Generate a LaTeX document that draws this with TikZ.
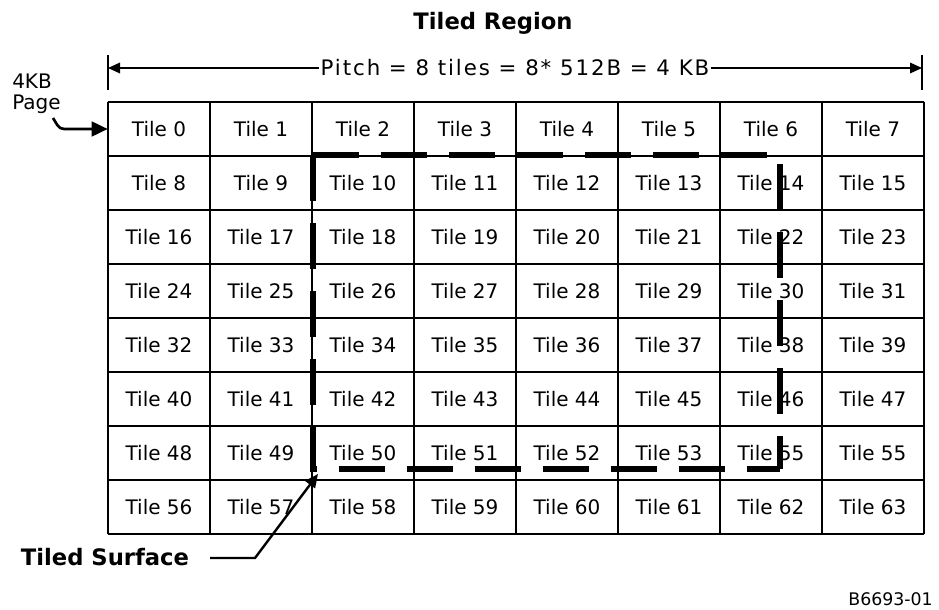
\documentclass[tikz,border=0pt]{standalone}
\usepackage{fontspec}
\setmainfont{DejaVu Sans}
\usetikzlibrary{arrows.meta,calc}

\tikzset{
  tile/.style={minimum width=76.5pt,minimum height=40.5pt,
    inner sep=0pt,font=\fontsize{15}{18}\selectfont},
  gridline/.style={line width=1.5pt},
  heading/.style={font=\bfseries\fontsize{17}{20}\selectfont},
  surface/.style={line width=4.2pt,dash pattern=on 34.5pt off 16.5pt},
  pointer/.style={line width=2pt,-{Triangle[length=12pt,width=11pt]}},
}

\begin{document}
\begin{tikzpicture}[x=0.75pt,y=-0.75pt]
    \useasboundingbox (0,0) rectangle (939,610);

    % Titel
    \node[heading] (title) at (493,23) {Tiled Region};

    % Raster van 8 x 8 tiles
    \foreach \r in {0,...,7}{
      \foreach \c in {0,...,7}{
        \pgfmathtruncatemacro{\n}{8*\r+\c}
        \pgfmathtruncatemacro{\lbl}{\n==54 ? 55 : \n}
        \node[tile] (t\n) at ({159+102*\c},{129+54*\r}) {Tile \lbl};
      }
    }
    % rasterlijnen
    \foreach \c in {0,...,7}{
      \pgfmathtruncatemacro{\m}{56+\c}
      \draw[gridline] (t\c.north west) -- (t\m.south west);
    }
    \draw[gridline] (t7.north east) -- (t63.south east);
    \foreach \r in {0,...,7}{
      \pgfmathtruncatemacro{\a}{8*\r}
      \pgfmathtruncatemacro{\b}{8*\r+7}
      \draw[gridline] (t\a.north west) -- (t\b.north east);
    }
    \draw[gridline] (t56.south west) -- (t63.south east);

    % Pitch maatlijn
    \draw[line width=1pt] (108,55) -- (108,90);
    \draw[line width=1pt] (922,55) -- (922,90);
    \coordinate (pl) at (108,68);
    \coordinate (pr) at (922,68);
    \draw[line width=0.9pt,{Triangle[length=9pt,width=8pt]}-{Triangle[length=9pt,width=8pt]}]
      (pl) -- node[fill=white,inner sep=1pt,
        font=\fontsize{16}{19}\selectfont\addfontfeatures{LetterSpace=9}]
      {Pitch = 8 tiles = 8* 512B = 4 KB} (pr);

    % 4KB pagina
    \node[anchor=north west,align=left,inner sep=0pt,
      font=\fontsize{15}{15.5}\selectfont] (page) at (12,74) {4KB\\Page};
    \coordinate (pagetail) at (53,118);
    \draw[pointer] (pagetail) to[out=-55,in=180] (64,129) -- (t0.west);

    % Tiled surface
    \coordinate (s1) at (313,155);
    \coordinate (s2) at (780,469);
    \draw[surface] (s1) -- (s1 -| s2) -- (s2);
    \draw[surface] (s1) -- (s1 |- s2) -- (s2);

    \node[heading] (surf) at (105,557) {Tiled Surface};
    \coordinate (bend) at (255,558);
    \coordinate (stip) at (318,474);
    \draw[line width=1.8pt,-{Triangle[length=10pt,width=9pt]}]
      (210,558) -- (bend) -- (stip);

    % Figuurnummer
    \node[anchor=east,inner sep=0pt,font=\fontsize{13}{15}\selectfont] (fig) at (933,599) {B6693-01};
\end{tikzpicture}
\end{document}
